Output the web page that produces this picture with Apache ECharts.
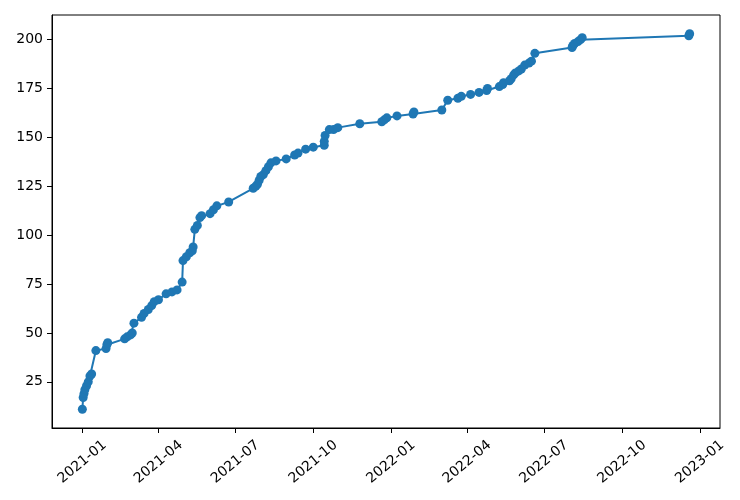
<!DOCTYPE html>
<html>
<head>
<meta charset="utf-8">
<script src="https://cdn.jsdelivr.net/npm/echarts@6/dist/echarts.min.js"></script>
<style>
  html, body { margin: 0; padding: 0; background: #fff; }
  #chart { width: 740px; height: 500px; }
</style>
</head>
<body>
<div id="chart"></div>
<script>
// dates and running totals
var dates = [
  '2021-01-01','2021-01-02','2021-01-03','2021-01-04','2021-01-06','2021-01-08','2021-01-10','2021-01-12','2021-01-17',
  '2021-01-29','2021-01-30','2021-01-31','2021-02-20','2021-02-23','2021-02-27','2021-03-01','2021-03-03','2021-03-12',
  '2021-03-15','2021-03-20','2021-03-24','2021-03-27','2021-04-01','2021-04-10','2021-04-17','2021-04-23','2021-04-29',
  '2021-04-30','2021-05-04','2021-05-08','2021-05-11','2021-05-12','2021-05-14','2021-05-17','2021-05-20','2021-05-22',
  '2021-06-01','2021-06-05','2021-06-09','2021-06-23','2021-07-22','2021-07-25','2021-07-27','2021-07-29','2021-07-31',
  '2021-08-03','2021-08-06','2021-08-09','2021-08-12','2021-08-18','2021-08-30','2021-09-09','2021-09-13','2021-09-22',
  '2021-10-01','2021-10-14','2021-10-14','2021-10-15','2021-10-20','2021-10-25','2021-10-30','2021-11-25','2021-12-21',
  '2021-12-24','2021-12-27','2022-01-08','2022-01-27','2022-01-28','2022-03-02','2022-03-09','2022-03-21','2022-03-25',
  '2022-04-05','2022-04-15','2022-04-24','2022-04-25','2022-05-09','2022-05-13','2022-05-14','2022-05-21','2022-05-23',
  '2022-05-26','2022-05-28','2022-06-01','2022-06-04','2022-06-08','2022-06-13','2022-06-16','2022-06-20','2022-08-03',
  '2022-08-04','2022-08-06','2022-08-10','2022-08-13','2022-08-15','2022-12-19','2022-12-20'
];
var values = [
  11, 17, 19, 21, 23, 25, 28, 29, 41,
  42, 44, 45, 47, 48, 49, 50, 55, 58,
  60, 62, 64, 66, 67, 70, 71, 72, 76,
  87, 89, 91, 92, 94, 103, 105, 109, 110,
  111, 113, 115, 117, 124, 125, 126, 128, 130,
  131, 133, 135, 137, 138, 139, 141, 142, 144,
  145, 146, 148, 151, 154, 154, 155, 157, 158,
  159, 160, 161, 162, 163, 164, 169, 170, 171,
  172, 173, 174, 175, 176, 177, 178, 179, 180,
  182, 183, 184, 185, 187, 188, 189, 193, 196,
  197, 198, 199, 200, 201, 202, 203
];
var yTicks = [25, 50, 75, 100, 125, 150, 175, 200];

var chart = echarts.init(document.getElementById('chart'));

var seriesData = dates.map(function (d, i) { return [d, values[i]]; });

function pad(n) { return n < 10 ? '0' + n : '' + n; }

var option = {
  animation: false,
  useUTC: true,
  textStyle: { fontFamily: 'DejaVu Sans' },
  grid: {
    left: 52, right: 20, top: 15, bottom: 72,
    show: true, borderColor: '#000', borderWidth: 1
  },
  xAxis: {
    type: 'time',
    min: Date.UTC(2020, 10, 26, 3),
    max: Date.UTC(2023, 0, 24, 21),
    splitNumber: 8,
    splitLine: { show: false },
    axisLine: { lineStyle: { color: '#000', width: 1 } },
    axisTick: { show: true, length: 5, lineStyle: { color: '#000' } },
    axisLabel: {
      rotate: 40,
      align: 'center',
      verticalAlign: 'middle',
      margin: 34,
      color: '#000',
      fontSize: 14,
      showMinLabel: false,
      showMaxLabel: false,
      formatter: function (v) {
        var d = new Date(v);
        return d.getUTCFullYear() + '-' + pad(d.getUTCMonth() + 1);
      }
    }
  },
  yAxis: {
    type: 'value',
    min: 1.4,
    max: 212.6,
    splitLine: { show: false },
    axisLine: { show: true, lineStyle: { color: '#000', width: 1 } },
    axisTick: { show: true, length: 5, customValues: yTicks, lineStyle: { color: '#000' } },
    axisLabel: {
      color: '#000',
      fontSize: 14,
      margin: 9,
      customValues: yTicks
    }
  },
  series: [{
    type: 'line',
    data: seriesData,
    symbol: 'circle',
    symbolSize: 9,
    showAllSymbol: true,
    color: '#1f77b4',
    lineStyle: { width: 2, color: '#1f77b4' },
    itemStyle: { color: '#1f77b4' }
  }]
};
chart.setOption(option);
</script>
</body>
</html>
